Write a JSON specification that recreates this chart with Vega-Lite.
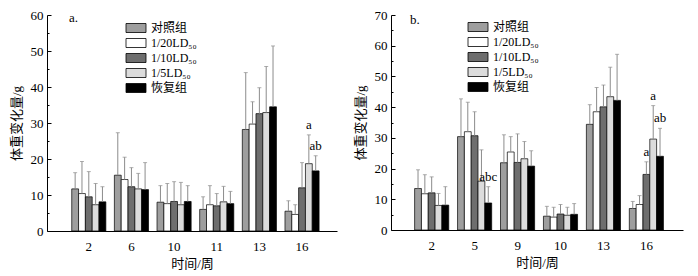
{
  "$schema": "https://vega.github.io/schema/vega-lite/v6.json",
  "padding": {"left": 10, "top": 9, "right": 2, "bottom": 2},
  "spacing": 17,
  "datasets": {
    "a": [
      {"w": "2", "g": "对照组", "v": 11.7, "up": 16.2, "sig": ""},
      {"w": "2", "g": "1/20LD₅₀", "v": 10.4, "up": 19.3, "sig": ""},
      {"w": "2", "g": "1/10LD₅₀", "v": 9.5, "up": 16.5, "sig": ""},
      {"w": "2", "g": "1/5LD₅₀", "v": 7.3, "up": 13.2, "sig": ""},
      {"w": "2", "g": "恢复组", "v": 8.1, "up": 12.3, "sig": ""},
      {"w": "6", "g": "对照组", "v": 15.5, "up": 27.3, "sig": ""},
      {"w": "6", "g": "1/20LD₅₀", "v": 14.3, "up": 20.5, "sig": ""},
      {"w": "6", "g": "1/10LD₅₀", "v": 12.3, "up": 17.6, "sig": ""},
      {"w": "6", "g": "1/5LD₅₀", "v": 11.7, "up": 16.0, "sig": ""},
      {"w": "6", "g": "恢复组", "v": 11.5, "up": 19.0, "sig": ""},
      {"w": "10", "g": "对照组", "v": 8.0, "up": 12.6, "sig": ""},
      {"w": "10", "g": "1/20LD₅₀", "v": 7.6, "up": 13.2, "sig": ""},
      {"w": "10", "g": "1/10LD₅₀", "v": 8.2, "up": 13.7, "sig": ""},
      {"w": "10", "g": "1/5LD₅₀", "v": 7.3, "up": 13.5, "sig": ""},
      {"w": "10", "g": "恢复组", "v": 8.2, "up": 12.6, "sig": ""},
      {"w": "11", "g": "对照组", "v": 6.0, "up": 9.5, "sig": ""},
      {"w": "11", "g": "1/20LD₅₀", "v": 7.3, "up": 12.6, "sig": ""},
      {"w": "11", "g": "1/10LD₅₀", "v": 7.0, "up": 10.4, "sig": ""},
      {"w": "11", "g": "1/5LD₅₀", "v": 8.1, "up": 12.4, "sig": ""},
      {"w": "11", "g": "恢复组", "v": 7.6, "up": 11.0, "sig": ""},
      {"w": "13", "g": "对照组", "v": 28.2, "up": 44.0, "sig": ""},
      {"w": "13", "g": "1/20LD₅₀", "v": 29.7, "up": 35.9, "sig": ""},
      {"w": "13", "g": "1/10LD₅₀", "v": 32.6, "up": 39.8, "sig": ""},
      {"w": "13", "g": "1/5LD₅₀", "v": 32.9, "up": 45.7, "sig": ""},
      {"w": "13", "g": "恢复组", "v": 34.5, "up": 51.4, "sig": ""},
      {"w": "16", "g": "对照组", "v": 5.5, "up": 8.4, "sig": ""},
      {"w": "16", "g": "1/20LD₅₀", "v": 4.6, "up": 7.3, "sig": ""},
      {"w": "16", "g": "1/10LD₅₀", "v": 12.0, "up": 19.0, "sig": ""},
      {"w": "16", "g": "1/5LD₅₀", "v": 18.7, "up": 26.7, "sig": "a"},
      {"w": "16", "g": "恢复组", "v": 16.7, "up": 20.9, "sig": "ab"}
    ],
    "b": [
      {"w": "2", "g": "对照组", "v": 13.5, "up": 19.6, "sig": ""},
      {"w": "2", "g": "1/20LD₅₀", "v": 11.8, "up": 18.0, "sig": ""},
      {"w": "2", "g": "1/10LD₅₀", "v": 12.1, "up": 17.3, "sig": ""},
      {"w": "2", "g": "1/5LD₅₀", "v": 8.0, "up": 11.9, "sig": ""},
      {"w": "2", "g": "恢复组", "v": 8.1, "up": 14.1, "sig": ""},
      {"w": "5", "g": "对照组", "v": 30.4, "up": 42.7, "sig": ""},
      {"w": "5", "g": "1/20LD₅₀", "v": 32.0, "up": 41.6, "sig": ""},
      {"w": "5", "g": "1/10LD₅₀", "v": 30.7, "up": 38.5, "sig": ""},
      {"w": "5", "g": "1/5LD₅₀", "v": 15.9, "up": 26.1, "sig": ""},
      {"w": "5", "g": "恢复组", "v": 8.8, "up": 14.1, "sig": "abc"},
      {"w": "9", "g": "对照组", "v": 21.9, "up": 31.0, "sig": ""},
      {"w": "9", "g": "1/20LD₅₀", "v": 25.4, "up": 30.4, "sig": ""},
      {"w": "9", "g": "1/10LD₅₀", "v": 22.0, "up": 31.3, "sig": ""},
      {"w": "9", "g": "1/5LD₅₀", "v": 23.2, "up": 28.8, "sig": ""},
      {"w": "9", "g": "恢复组", "v": 20.8, "up": 25.8, "sig": ""},
      {"w": "10", "g": "对照组", "v": 4.5, "up": 7.7, "sig": ""},
      {"w": "10", "g": "1/20LD₅₀", "v": 4.2, "up": 7.4, "sig": ""},
      {"w": "10", "g": "1/10LD₅₀", "v": 5.2, "up": 8.3, "sig": ""},
      {"w": "10", "g": "1/5LD₅₀", "v": 4.8, "up": 7.4, "sig": ""},
      {"w": "10", "g": "恢复组", "v": 5.1, "up": 8.6, "sig": ""},
      {"w": "13", "g": "对照组", "v": 34.4, "up": 40.8, "sig": ""},
      {"w": "13", "g": "1/20LD₅₀", "v": 38.5, "up": 46.4, "sig": ""},
      {"w": "13", "g": "1/10LD₅₀", "v": 40.1, "up": 47.2, "sig": ""},
      {"w": "13", "g": "1/5LD₅₀", "v": 43.4, "up": 53.0, "sig": ""},
      {"w": "13", "g": "恢复组", "v": 42.2, "up": 57.2, "sig": ""},
      {"w": "16", "g": "对照组", "v": 7.0, "up": 9.3, "sig": ""},
      {"w": "16", "g": "1/20LD₅₀", "v": 8.3, "up": 11.2, "sig": ""},
      {"w": "16", "g": "1/10LD₅₀", "v": 18.1, "up": 22.2, "sig": "a"},
      {"w": "16", "g": "1/5LD₅₀", "v": 29.6, "up": 40.5, "sig": "a"},
      {"w": "16", "g": "恢复组", "v": 24.0, "up": 33.1, "sig": "ab"}
    ]
  },
  "hconcat": [
    {
      "width": 290,
      "height": 216,
      "data": {"name": "a"},
      "title": {"text": "a.", "anchor": "start", "frame": "group", "dx": 22, "dy": 16, "offset": 0, "fontSize": 13, "fontWeight": "normal", "font": "Liberation Serif"},
      "encoding": {
        "x": {"field": "w", "type": "ordinal", "sort": ["2", "6", "10", "11", "13", "16"], "scale": {"paddingInner": 0.2, "paddingOuter": 0.5, "align": 0.58}, "title": "时间/周", "axis": {"ticks": false, "labelAngle": 0, "labelPadding": 9, "titlePadding": 4}},
        "xOffset": {"field": "g", "type": "nominal", "sort": ["对照组", "1/20LD₅₀", "1/10LD₅₀", "1/5LD₅₀", "恢复组"]},
        "y": {"field": "v", "type": "quantitative", "scale": {"domain": [0, 60], "nice": false}, "title": "体重变化量/g",
          "axis": {"values": [0, 5, 10, 15, 20, 25, 30, 35, 40, 45, 50, 55, 60], "labelOverlap": false, "labelOpacity": {"condition": {"test": "datum.value % 10 === 0", "value": 1}, "value": 0}, "tickSize": {"condition": {"test": "datum.value % 10 === 0", "value": -4}, "value": -2}, "labelPadding": 8, "titlePadding": 5}}
      },
      "layer": [
        {
          "mark": {"type": "bar", "stroke": "black", "strokeWidth": 0.7},
          "encoding": {
            "fill": {"field": "g", "type": "nominal", "sort": ["对照组", "1/20LD₅₀", "1/10LD₅₀", "1/5LD₅₀", "恢复组"],
              "scale": {"domain": ["对照组", "1/20LD₅₀", "1/10LD₅₀", "1/5LD₅₀", "恢复组"], "range": ["#9e9e9e", "#ffffff", "#6e6e6e", "#dcdcdc", "#000000"]},
              "legend": {"legendX": 83, "legendY": 7}}
          }
        },
        {"mark": {"type": "rule", "color": "#8c8c8c", "strokeWidth": 1}, "encoding": {"y2": {"field": "up"}}},
        {"mark": {"type": "tick", "color": "#8c8c8c", "size": 4, "thickness": 1}, "encoding": {"y": {"field": "up", "type": "quantitative"}}},
        {"transform": [{"filter": "datum.sig != ''"}], "mark": {"type": "text", "dy": -3, "baseline": "bottom", "font": "Liberation Serif", "fontSize": 13}, "encoding": {"y": {"field": "up", "type": "quantitative"}, "text": {"field": "sig"}}}
      ]
    },
    {
      "width": 292,
      "height": 215,
      "data": {"name": "b"},
      "title": {"text": "b.", "anchor": "start", "frame": "group", "dx": 19, "dy": 18, "offset": 0, "fontSize": 13, "fontWeight": "normal", "font": "Liberation Serif"},
      "encoding": {
        "x": {"field": "w", "type": "ordinal", "sort": ["2", "5", "9", "10", "13", "16"], "scale": {"paddingInner": 0.2, "paddingOuter": 0.5, "align": 0.55}, "title": "时间/周", "axis": {"ticks": false, "labelAngle": 0, "labelPadding": 9, "titlePadding": 4}},
        "xOffset": {"field": "g", "type": "nominal", "sort": ["对照组", "1/20LD₅₀", "1/10LD₅₀", "1/5LD₅₀", "恢复组"]},
        "y": {"field": "v", "type": "quantitative", "scale": {"domain": [0, 70], "nice": false}, "title": "体重变化量/g",
          "axis": {"values": [0, 5, 10, 15, 20, 25, 30, 35, 40, 45, 50, 55, 60, 65, 70], "labelOverlap": false, "labelOpacity": {"condition": {"test": "datum.value % 10 === 0", "value": 1}, "value": 0}, "tickSize": {"condition": {"test": "datum.value % 10 === 0", "value": -4}, "value": -2}, "labelPadding": 8, "titlePadding": 5}}
      },
      "layer": [
        {
          "mark": {"type": "bar", "stroke": "black", "strokeWidth": 0.7},
          "encoding": {
            "fill": {"field": "g", "type": "nominal", "sort": ["对照组", "1/20LD₅₀", "1/10LD₅₀", "1/5LD₅₀", "恢复组"],
              "scale": {"domain": ["对照组", "1/20LD₅₀", "1/10LD₅₀", "1/5LD₅₀", "恢复组"], "range": ["#9e9e9e", "#ffffff", "#6e6e6e", "#dcdcdc", "#000000"]},
              "legend": {"legendX": 81, "legendY": 6}}
          }
        },
        {"mark": {"type": "rule", "color": "#8c8c8c", "strokeWidth": 1}, "encoding": {"y2": {"field": "up"}}},
        {"mark": {"type": "tick", "color": "#8c8c8c", "size": 4, "thickness": 1}, "encoding": {"y": {"field": "up", "type": "quantitative"}}},
        {"transform": [{"filter": "datum.sig != ''"}], "mark": {"type": "text", "dy": -3, "baseline": "bottom", "font": "Liberation Serif", "fontSize": 13}, "encoding": {"y": {"field": "up", "type": "quantitative"}, "text": {"field": "sig"}}}
      ]
    }
  ],
  "resolve": {"scale": {"fill": "independent", "y": "independent", "x": "independent"}, "legend": {"fill": "independent"}},
  "config": {
    "font": "Liberation Serif",
    "view": {"stroke": null},
    "axis": {"grid": false, "labelOverlap": false, "domainColor": "black", "tickColor": "black", "labelColor": "black", "titleColor": "black", "labelFont": "Liberation Serif, Noto Sans CJK SC", "labelFontSize": 13, "titleFont": "Liberation Serif, Noto Sans CJK SC", "titleFontSize": 13, "titleFontWeight": "normal"},
    "legend": {"orient": "none", "title": null, "symbolType": "M-2,-0.9H2V0.9H-2Z", "symbolSize": 100, "symbolStrokeColor": "black", "symbolStrokeWidth": 0.8, "labelFont": "Liberation Serif, Noto Sans CJK SC", "labelFontSize": 12, "labelColor": "black", "labelOffset": 9, "rowPadding": 1},
    "title": {"color": "black"}
  }
}
